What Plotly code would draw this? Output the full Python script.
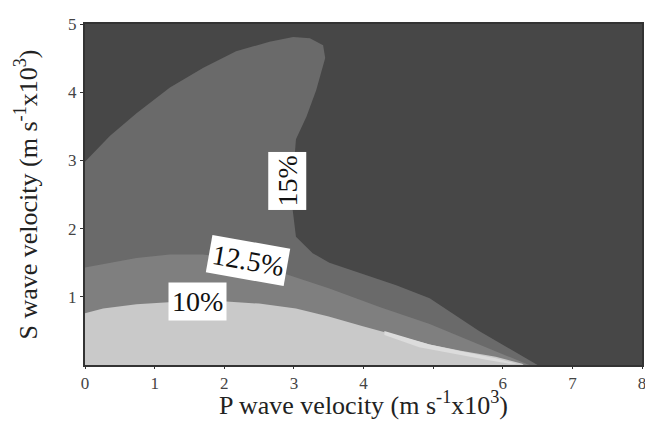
import plotly.graph_objects as go

# Boundary curves (P velocity x, S velocity y, in m/s x10^3)
# 15 % contour: top-left arc, horn tip, then down to the x axis
b15_x = [0.0, 0.36, 0.74, 1.22, 1.70, 2.17, 2.65, 2.99, 3.23, 3.42, 3.45, 3.32, 3.18, 3.03, 2.99, 2.98, 3.03, 3.27, 3.51, 3.99, 4.47, 4.95, 5.66, 6.50]
b15_y = [2.98, 3.36, 3.69, 4.07, 4.36, 4.60, 4.74, 4.81, 4.79, 4.69, 4.50, 4.03, 3.64, 3.31, 2.79, 2.30, 1.88, 1.64, 1.50, 1.33, 1.17, 0.98, 0.50, 0.0]
# 12.5 % contour
b125_x = [0.0, 0.26, 0.74, 1.22, 1.69, 2.00, 2.50, 2.89, 3.51, 4.23, 4.95, 5.66, 6.38]
b125_y = [1.43, 1.48, 1.57, 1.62, 1.62, 1.58, 1.45, 1.33, 1.12, 0.85, 0.60, 0.30, 0.0]
# 10 % contour
b10_x = [0.0, 0.26, 0.74, 1.20, 2.03, 2.50, 3.03, 3.50, 3.99, 4.50, 4.95, 5.40, 5.90, 6.28, 6.30]
b10_y = [0.76, 0.83, 0.89, 0.92, 0.93, 0.90, 0.83, 0.71, 0.57, 0.43, 0.30, 0.21, 0.12, 0.02, 0.0]
# thin lighter sliver just under the 10 % contour
sl_x = [4.30, 4.95, 5.40, 5.90, 6.20, 6.10, 5.80, 5.30, 4.80, 4.30]
sl_y = [0.50, 0.30, 0.20, 0.10, 0.02, 0.02, 0.07, 0.16, 0.26, 0.44]

# contour labels
lab_text = ["15%", "12.5%", "10%"]
lab_x = [2.91, 2.34, 1.62]
lab_y = [2.70, 1.53, 0.93]
lab_angle = [-90, 10, 0]

x_tickvals = [0, 1, 2, 3, 4, 5, 6, 7, 8]
x_ticktext = ["0", "1", "2", "3", "4", "", "6", "7", "8"]
y_tickvals = [1, 2, 3, 4, 5]
y_ticktext = ["1", "2", "3", "4", "5"]

x_title = "P wave velocity (m s<sup>-1</sup>x10<sup>3</sup>)"
y_title = "S wave velocity (m s<sup>-1</sup>x10<sup>3</sup>)"

serif = "Liberation Serif"
fig = go.Figure()

def region(bx, by, color):
    xs = list(bx) + [0.0]
    ys = list(by) + [0.0]
    fig.add_trace(go.Scatter(x=xs, y=ys, mode="lines", fill="toself",
                             fillcolor=color, line=dict(width=0, color=color),
                             hoverinfo="skip", showlegend=False))

region(b15_x, b15_y, "#6a6a6a")
region(b125_x, b125_y, "#7f7f7f")
region(b10_x, b10_y, "#c9c9c9")
fig.add_trace(go.Scatter(x=sl_x, y=sl_y, mode="lines", fill="toself",
                         fillcolor="#dcdcdc", line=dict(width=0, color="#dcdcdc"),
                         hoverinfo="skip", showlegend=False))

for t, x, y, a in zip(lab_text, lab_x, lab_y, lab_angle):
    fig.add_annotation(x=x, y=y, text=t, showarrow=False, textangle=a,
                       font=dict(family=serif, size=28, color="#111"),
                       bgcolor="white", borderpad=3)

# axis titles
fig.add_annotation(x=0.5, y=0, xref="paper", yref="paper", text=x_title,
                   showarrow=False, xanchor="center", yanchor="middle", yshift=-38,
                   font=dict(family=serif, size=26, color="#222"))
fig.add_annotation(x=0, y=0.5, xref="paper", yref="paper", text=y_title,
                   showarrow=False, xanchor="center", yanchor="middle", xshift=-58,
                   textangle=-90, font=dict(family=serif, size=26, color="#222"))

fig.update_layout(
    width=645, height=414,
    margin=dict(l=77, r=10, t=7, b=57),
    paper_bgcolor="white", plot_bgcolor="#474747",
    font=dict(family=serif, color="#333"),
    xaxis=dict(range=[0, 8], tickvals=x_tickvals, ticktext=x_ticktext,
               showgrid=False, zeroline=False, ticks="outside", ticklen=2,
               tickcolor="#333", showline=True, linecolor="#333", linewidth=2,
               mirror=True, ticklabeloverflow="allow",
               tickfont=dict(family=serif, size=17, color="#444")),
    yaxis=dict(range=[0, 5], tickvals=y_tickvals, ticktext=y_ticktext,
               showgrid=False, zeroline=False, ticks="outside", ticklen=3,
               tickcolor="#333", showline=True, linecolor="#333", linewidth=2,
               mirror=True, ticklabeloverflow="allow",
               tickfont=dict(family=serif, size=17, color="#444")),
)

fig.write_html("out.html")
